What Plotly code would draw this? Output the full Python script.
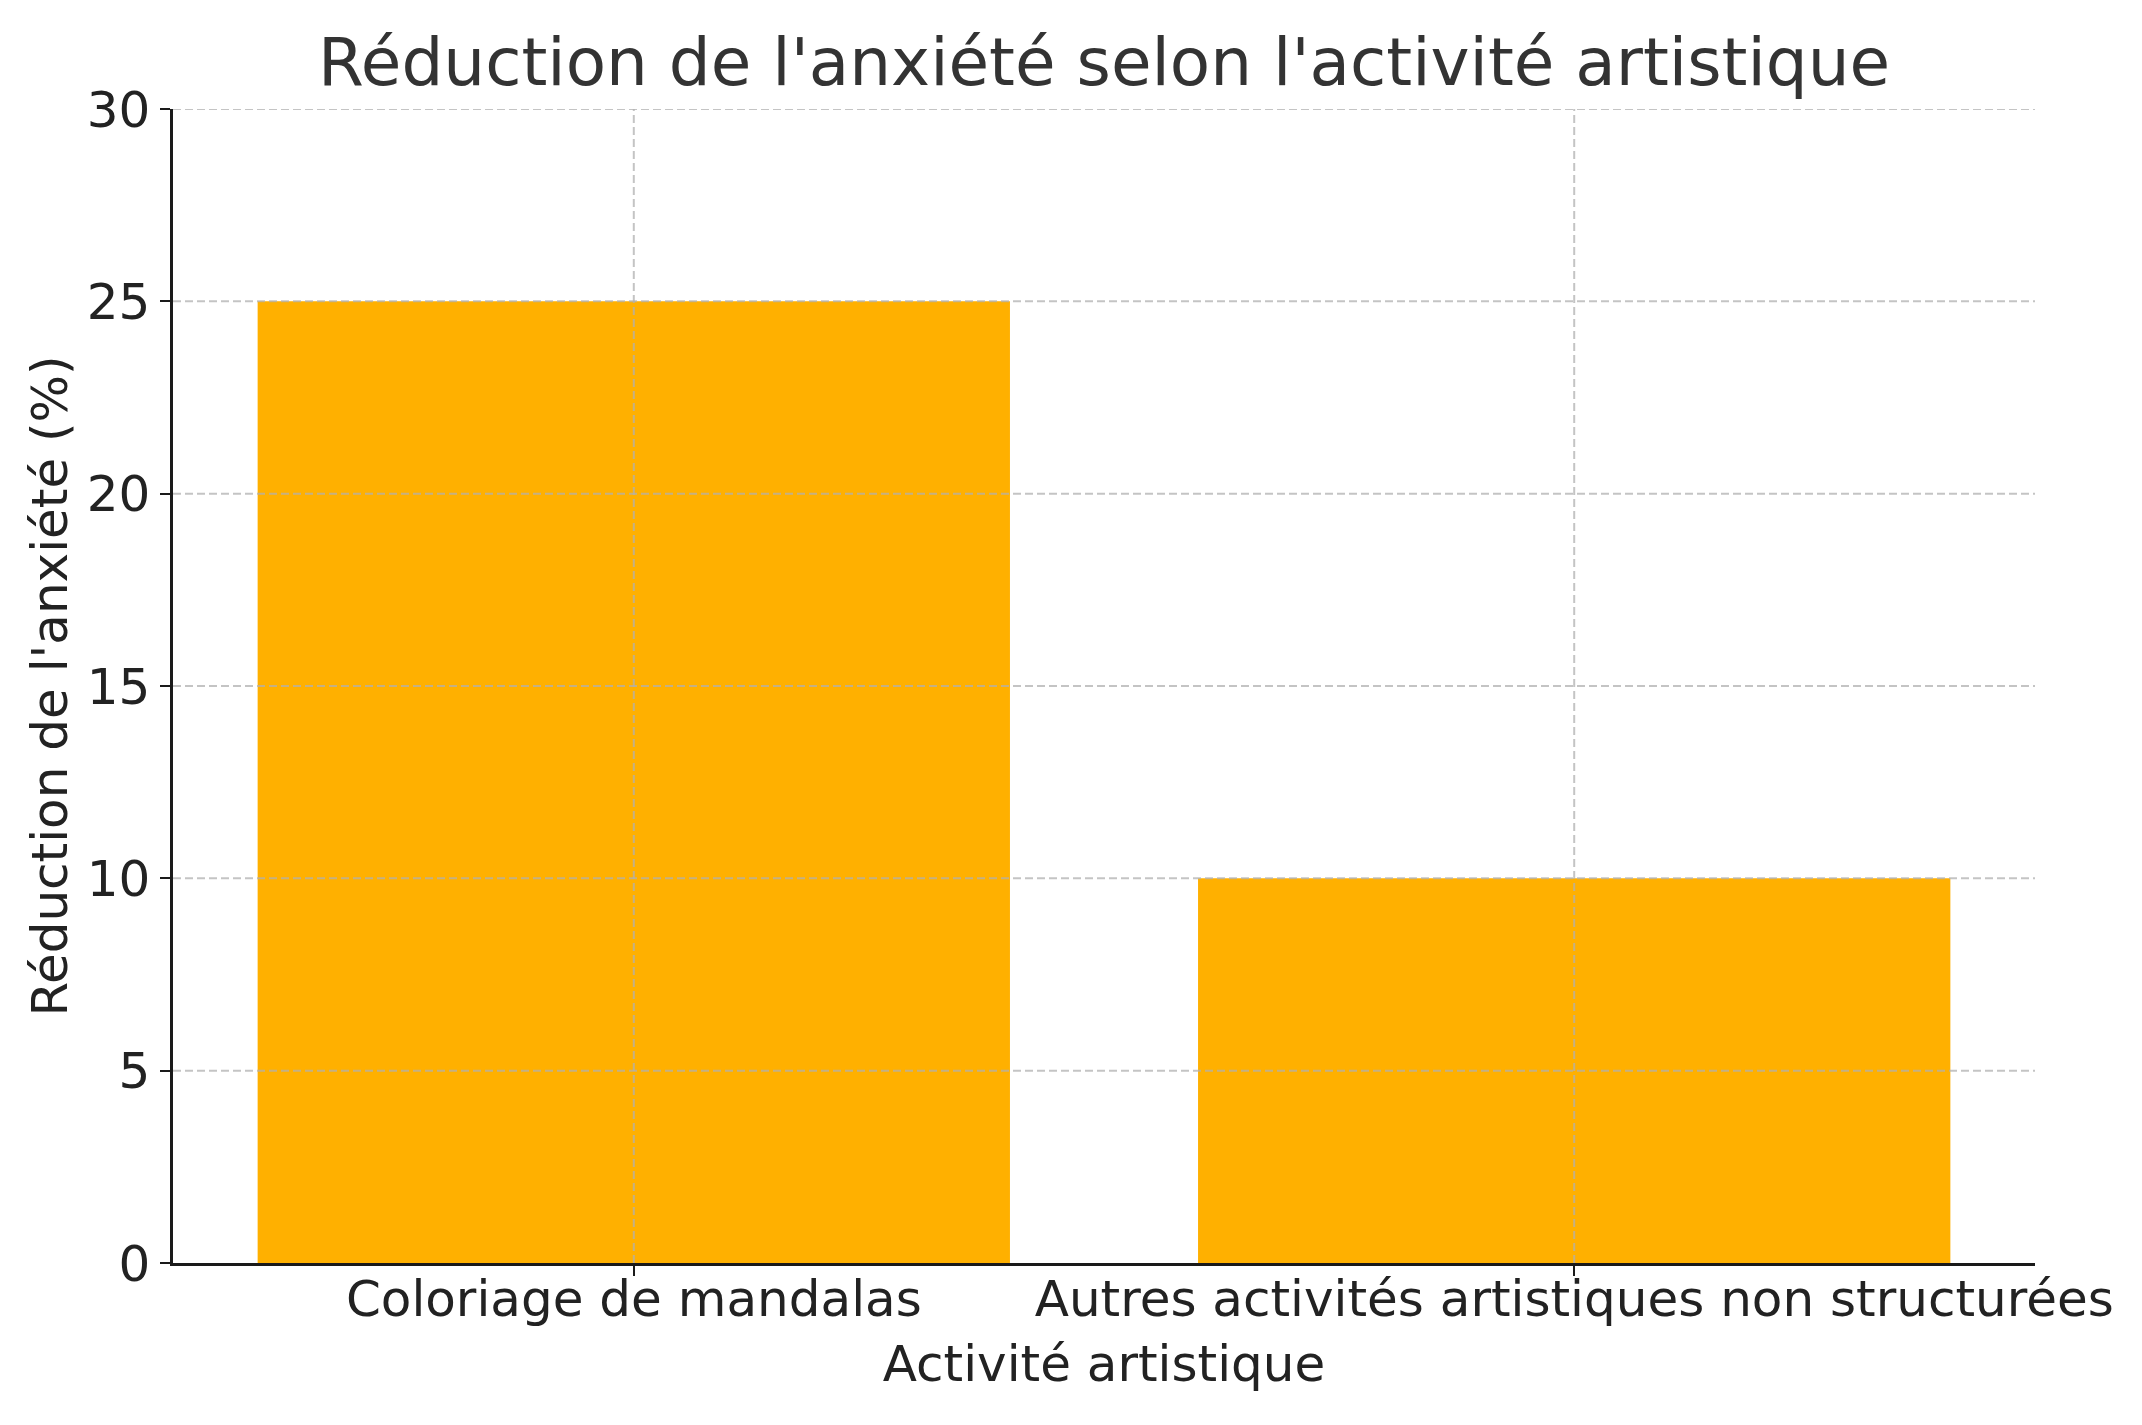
import plotly.graph_objects as go

categories = ["Coloriage de mandalas", "Autres activités artistiques non structurées"]
values = [25, 10]
y_ticks = [0, 5, 10, 15, 20, 25, 30]

font_family = "DejaVu Sans"
grid_color = "rgba(176,176,176,0.75)"
grid_dash = "8px,4px"

fig = go.Figure()
fig.add_trace(go.Bar(
    x=categories,
    y=values,
    width=0.8,
    marker=dict(color="#FFB000", line=dict(width=0)),
))

# gridlines drawn above bars (like the reference)
for t in y_ticks[1:]:
    fig.add_shape(type="line", xref="paper", yref="y", x0=0, x1=1, y0=t, y1=t,
                  line=dict(color=grid_color, width=2, dash=grid_dash), layer="above")
for c in categories:
    fig.add_shape(type="line", xref="x", yref="paper", x0=c, x1=c, y0=0, y1=1,
                  line=dict(color=grid_color, width=2, dash=grid_dash), layer="above")

fig.update_layout(
    width=2142,
    height=1425,
    paper_bgcolor="white",
    plot_bgcolor="white",
    margin=dict(l=165, r=115, t=101, b=170),
    showlegend=False,
    title=dict(
        text="Réduction de l'anxiété selon l'activité artistique",
        x=0.5, xref="paper", xanchor="center",
        y=1 - 54 / 1425, yref="container", yanchor="middle",
        font=dict(family=font_family, size=66, color="#333333"),
    ),
    font=dict(family=font_family, color="#222222"),
)

fig.update_xaxes(
    range=[-0.49, 1.49],
    showline=True, linecolor="#1a1a1a", linewidth=2.5,
    ticks="outside", ticklen=10, tickwidth=2, tickcolor="#1a1a1a",
    showgrid=False,
    tickfont=dict(family=font_family, size=50, color="#222222"),
    ticklabelstandoff=-20,
    title=dict(text="Activité artistique", font=dict(family=font_family, size=50, color="#222222"), standoff=20),
    automargin=False,
    zeroline=False,
)
fig.update_yaxes(
    range=[0, 30],
    tickvals=y_ticks,
    showline=True, linecolor="#1a1a1a", linewidth=2.5,
    ticks="outside", ticklen=10, tickwidth=2, tickcolor="#1a1a1a",
    showgrid=False,
    tickfont=dict(family=font_family, size=50, color="#222222"),
    title=dict(text="Réduction de l'anxiété (%)", font=dict(family=font_family, size=50, color="#222222"), standoff=4),
    automargin=False,
    zeroline=False,
)

fig.write_html("out.html")
